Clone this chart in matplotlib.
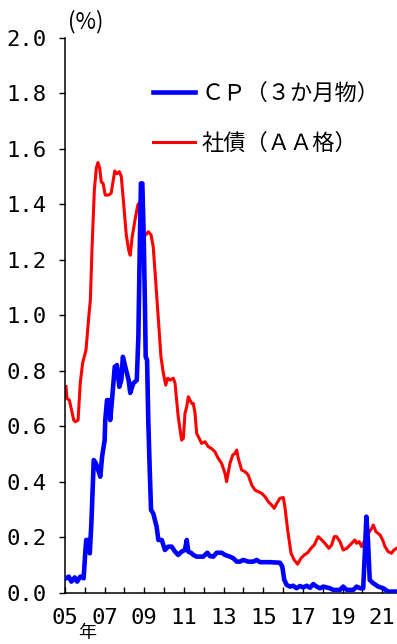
import matplotlib
matplotlib.use("Agg")
import matplotlib.pyplot as plt
import numpy as np

# ---- data (year fraction, %) ----
cp_years = [2005.05, 2005.19, 2005.32, 2005.49, 2005.61, 2005.77, 2005.94, 2006.02, 2006.07, 2006.16,
            2006.25, 2006.33, 2006.45, 2006.56, 2006.70, 2006.78, 2006.87, 2007.00, 2007.03, 2007.12,
            2007.20, 2007.28, 2007.37, 2007.51, 2007.62, 2007.74, 2007.84, 2007.92, 2008.04, 2008.21,
            2008.29, 2008.44, 2008.62, 2008.70, 2008.78, 2008.83, 2008.90, 2008.97, 2009.03, 2009.07,
            2009.14, 2009.20, 2009.27, 2009.34, 2009.45, 2009.62, 2009.71, 2009.88, 2010.04, 2010.21,
            2010.38, 2010.55, 2010.71, 2010.88, 2011.05, 2011.14, 2011.22, 2011.39, 2011.47, 2011.64,
            2011.97, 2012.18, 2012.31, 2012.48, 2012.65, 2012.90, 2013.07, 2013.32, 2013.49, 2013.66,
            2013.82, 2013.99, 2014.24, 2014.50, 2014.67, 2014.83, 2015.34, 2015.84, 2015.96, 2016.06,
            2016.18, 2016.35, 2016.51, 2016.68, 2016.85, 2017.02, 2017.19, 2017.36, 2017.52, 2017.69,
            2017.86, 2018.03, 2018.20, 2018.36, 2018.53, 2018.87, 2019.03, 2019.21, 2019.54, 2019.71,
            2019.88, 2020.04, 2020.13, 2020.20, 2020.28, 2020.37, 2020.55, 2020.80, 2021.05, 2021.30,
            2021.73]
cp_values = [0.052, 0.058, 0.040, 0.055, 0.040, 0.058, 0.052, 0.142, 0.190, 0.190,
             0.142, 0.250, 0.478, 0.466, 0.436, 0.418, 0.490, 0.550, 0.622, 0.694,
             0.694, 0.622, 0.694, 0.814, 0.820, 0.742, 0.766, 0.850, 0.814, 0.766,
             0.720, 0.754, 0.766, 0.922, 1.283, 1.475, 1.475, 1.283, 1.043, 0.850,
             0.838, 0.620, 0.450, 0.298, 0.286, 0.238, 0.190, 0.190, 0.154, 0.166,
             0.166, 0.148, 0.136, 0.148, 0.154, 0.190, 0.148, 0.142, 0.136, 0.130,
             0.130, 0.144, 0.132, 0.130, 0.144, 0.144, 0.136, 0.130, 0.124, 0.112,
             0.112, 0.118, 0.112, 0.112, 0.118, 0.110, 0.110, 0.108, 0.094, 0.046,
             0.028, 0.022, 0.025, 0.016, 0.024, 0.019, 0.025, 0.018, 0.031, 0.022,
             0.016, 0.022, 0.019, 0.016, 0.010, 0.010, 0.022, 0.010, 0.010, 0.022,
             0.016, 0.016, 0.154, 0.274, 0.190, 0.046, 0.034, 0.022, 0.016, 0.004,
             0.004]

bond_years = [2005.05, 2005.10, 2005.22, 2005.44, 2005.52, 2005.66, 2005.77, 2005.89, 2006.06, 2006.20,
              2006.28, 2006.36, 2006.48, 2006.58, 2006.66, 2006.75, 2006.83, 2006.92, 2007.03, 2007.20,
              2007.33, 2007.41, 2007.51, 2007.62, 2007.74, 2007.84, 2007.96, 2008.09, 2008.21, 2008.29,
              2008.39, 2008.53, 2008.67, 2008.73, 2008.83, 2008.95, 2009.07, 2009.20, 2009.34, 2009.45,
              2009.57, 2009.71, 2009.84, 2009.96, 2010.08, 2010.18, 2010.30, 2010.46, 2010.55, 2010.63,
              2010.71, 2010.88, 2010.97, 2011.05, 2011.14, 2011.22, 2011.39, 2011.47, 2011.56, 2011.64,
              2011.77, 2011.89, 2012.06, 2012.23, 2012.40, 2012.56, 2012.73, 2012.90, 2013.07, 2013.15,
              2013.32, 2013.46, 2013.57, 2013.66, 2013.74, 2013.91, 2014.08, 2014.24, 2014.42, 2014.58,
              2014.75, 2014.92, 2015.09, 2015.25, 2015.42, 2015.55, 2015.68, 2015.84, 2016.01, 2016.09,
              2016.23, 2016.40, 2016.56, 2016.73, 2016.90, 2017.07, 2017.24, 2017.41, 2017.57, 2017.77,
              2017.95, 2018.11, 2018.31, 2018.45, 2018.58, 2018.70, 2018.87, 2019.03, 2019.21, 2019.46,
              2019.62, 2019.71, 2019.84, 2019.96, 2020.13, 2020.30, 2020.47, 2020.55, 2020.68, 2020.89,
              2021.02, 2021.14, 2021.30, 2021.47, 2021.59, 2021.73]
bond_values = [0.743, 0.700, 0.694, 0.622, 0.616, 0.622, 0.756, 0.828, 0.875, 0.995,
               1.055, 1.235, 1.451, 1.530, 1.550, 1.530, 1.480, 1.475, 1.433, 1.433,
               1.440, 1.476, 1.520, 1.510, 1.517, 1.500, 1.400, 1.290, 1.235, 1.216,
               1.283, 1.343, 1.397, 1.403, 1.355, 1.283, 1.289, 1.301, 1.289, 1.247,
               1.127, 0.983, 0.850, 0.791, 0.748, 0.773, 0.766, 0.773, 0.755, 0.694,
               0.634, 0.550, 0.556, 0.646, 0.670, 0.706, 0.682, 0.682, 0.646, 0.574,
               0.556, 0.538, 0.544, 0.526, 0.519, 0.508, 0.484, 0.466, 0.430, 0.400,
               0.466, 0.496, 0.502, 0.514, 0.484, 0.442, 0.436, 0.424, 0.388, 0.370,
               0.364, 0.358, 0.346, 0.328, 0.316, 0.304, 0.322, 0.340, 0.343, 0.310,
               0.226, 0.142, 0.118, 0.103, 0.124, 0.136, 0.144, 0.160, 0.172, 0.202,
               0.190, 0.178, 0.160, 0.172, 0.202, 0.202, 0.184, 0.154, 0.160, 0.178,
               0.190, 0.178, 0.184, 0.166, 0.190, 0.214, 0.232, 0.244, 0.220, 0.208,
               0.190, 0.166, 0.148, 0.142, 0.154, 0.160]

cp_label = "ＣＰ（３か月物）"
bond_label = "社債（ＡＡ格）"
x_tick_years = list(range(2005, 2022))
x_tick_labels = [f"{y % 100:02d}" if y % 2 == 1 else "" for y in x_tick_years]
y_ticks = [0.0, 0.2, 0.4, 0.6, 0.8, 1.0, 1.2, 1.4, 1.6, 1.8, 2.0]

W, H = 397, 644
fig = plt.figure(figsize=(W / 100, H / 100), dpi=100)
ax_h = 592.7 - 37.7
ax_w = 397.5 - 65
ax = fig.add_axes([65 / W, 1 - 592.7 / H, ax_w / W, ax_h / H])

ax.plot(bond_years, bond_values, color="#ff0000", lw=2.2, label=bond_label, zorder=2)
ax.plot(cp_years, cp_values, color="#0000ff", lw=3.3, label=cp_label, zorder=3,
        solid_joinstyle="round")

ax.set_xlim(2005, 2021.77)
ax.set_ylim(0, 2.0)
ax.set_xticks(x_tick_years)
ax.set_xticklabels(x_tick_labels)
ax.set_yticks(y_ticks)
ax.set_yticklabels([f"{v:.1f}" for v in y_ticks])

for s in ["top", "right"]:
    ax.spines[s].set_visible(False)
for s in ["left", "bottom"]:
    ax.spines[s].set_linewidth(1.1)

ax.tick_params(axis="y", direction="out", length=4.5, width=1.0, pad=9)
ax.tick_params(axis="x", direction="in", length=4.5, width=1.0, pad=11)
for lab in ax.get_xticklabels() + ax.get_yticklabels():
    lab.set_fontfamily("DejaVu Sans Mono")
    lab.set_fontsize(16)

h, l = ax.get_legend_handles_labels()
order = [1, 0]
leg = ax.legend([h[i] for i in order], [l[i] for i in order],
                loc="upper left",
                bbox_to_anchor=((153 - 65) / ax_w, (592.7 - 82) / ax_h),
                frameon=False, handlelength=1.9, handletextpad=0.3, labelspacing=1.2,
                borderaxespad=0, borderpad=0,
                prop={"family": ["Noto Sans CJK JP", "DejaVu Sans"], "size": 16})

fig.text(86 / W, 1 - 22 / H, "(%)", ha="center", va="center",
         fontsize=16, fontfamily=["Noto Sans CJK JP", "DejaVu Sans"])
fig.text(87 / W, 1 - 633 / H, "年", ha="center", va="center",
         fontsize=13, fontfamily=["Noto Sans CJK JP", "DejaVu Sans"])

fig.savefig("out.png", dpi=100)
